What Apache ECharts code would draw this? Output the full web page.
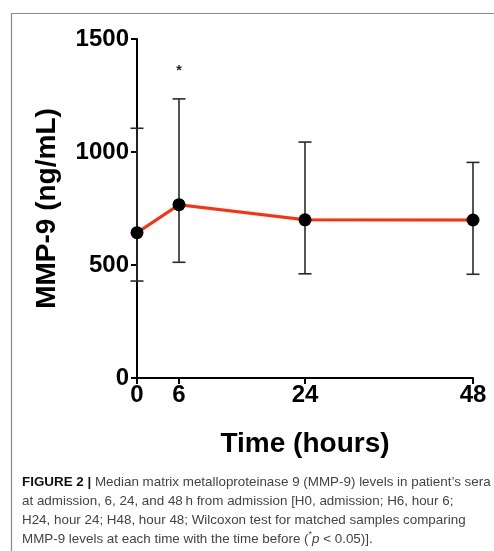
<!DOCTYPE html>
<html><head><meta charset="utf-8">
<script src="https://cdn.jsdelivr.net/npm/echarts@6/dist/echarts.min.js"></script>
<style>html,body{margin:0;padding:0;background:#fff}#c{width:494px;height:551px}</style>
</head><body><div id="c"></div>
<script>
var hours = [0, 6, 24, 48];
var medians = [643, 767, 700, 699];
var upper = [1105, 1235, 1044, 954];
var lower = [429, 512, 461, 459];
var sig = ['', '*', '', ''];
var xTicks = [0, 6, 24, 48];
var yTicks = [0, 500, 1000, 1500];

var chart = echarts.init(document.getElementById('c'), null, {renderer: 'canvas'});
var FF = '"Liberation Sans", Arial, Helvetica, sans-serif';
var errData = hours.map(function (h, i) { return [h, lower[i], upper[i], sig[i]]; });

chart.setOption({
  animation: false,
  backgroundColor: '#fff',
  grid: {left: 137, top: 39, right: 21, bottom: 173, containLabel: false},
  xAxis: {
    type: 'value', min: 0, max: 48,
    name: 'Time (hours)', nameLocation: 'middle', nameGap: 52,
    nameTextStyle: {fontFamily: FF, fontWeight: 'bold', fontSize: 28, color: '#000'},
    axisLine: {show: true, lineStyle: {color: '#000', width: 2}},
    axisTick: {show: true, length: 6, lineStyle: {color: '#000', width: 2}, customValues: xTicks},
    axisLabel: {fontFamily: FF, fontWeight: 'bold', fontSize: 24, color: '#000', margin: 5, customValues: xTicks,
      formatter: function (v) { return String(v); }},
    splitLine: {show: false}
  },
  yAxis: {
    type: 'value', min: 0, max: 1500, interval: 500,
    name: 'MMP-9 (ng/mL)', nameLocation: 'middle', nameGap: 76, nameRotate: 90,
    nameTextStyle: {fontFamily: FF, fontWeight: 'bold', fontSize: 28, color: '#000'},
    axisLine: {show: true, lineStyle: {color: '#000', width: 2}},
    axisTick: {show: true, length: 6, lineStyle: {color: '#000', width: 2}, customValues: yTicks},
    axisLabel: {fontFamily: FF, fontWeight: 'bold', fontSize: 24, color: '#000', margin: 8, customValues: yTicks,
      formatter: function (v) { return String(v); }},
    splitLine: {show: false}
  },
  graphic: [
    {type: 'rect', shape: {x: 11.5, y: 13.5, width: 600, height: 700}, style: {fill: null, stroke: '#8a8a8a', lineWidth: 1.2}, z: -10, silent: true},
    {type: 'text', left: 22, top: 473, style: {
      text: '{b|FIGURE 2 |} Median matrix metalloproteinase 9 (MMP-9) levels in patient\u2019s sera\nat admission, 6, 24, and 48\u2009h from admission [H0, admission; H6, hour 6;\nH24, hour 24; H48, hour 48; Wilcoxon test for matched samples comparing\nMMP-9 levels at each time with the time before ({s|*}{i|p} < 0.05)].',
      fontFamily: FF, fontSize: 13.4, lineHeight: 19, fill: '#444',
      rich: {
        b: {fontFamily: FF, fontSize: 13.4, fontWeight: 'bold', fill: '#111', lineHeight: 19},
        i: {fontFamily: FF, fontSize: 13.4, fontStyle: 'italic', fill: '#444', lineHeight: 19},
        s: {fontFamily: FF, fontSize: 9, fill: '#444', lineHeight: 19, verticalAlign: 'top'}
      }
    }}
  ],
  series: [
    {
      type: 'custom', z: 1, silent: true,
      data: errData,
      encode: {x: 0, y: [1, 2]},
      renderItem: function (params, api) {
        var x = api.value(0);
        var lo = api.coord([x, api.value(1)]);
        var hi = api.coord([x, api.value(2)]);
        var hw = 6.5;
        var st = {stroke: '#2a2a2a', lineWidth: 1.6};
        var children = [
          {type: 'line', shape: {x1: lo[0], y1: lo[1], x2: hi[0], y2: hi[1]}, style: st},
          {type: 'line', shape: {x1: hi[0] - hw, y1: hi[1], x2: hi[0] + hw, y2: hi[1]}, style: st},
          {type: 'line', shape: {x1: lo[0] - hw, y1: lo[1], x2: lo[0] + hw, y2: lo[1]}, style: st}
        ];
        var s = api.value(3);
        if (s && s !== '-') {
          children.push({type: 'text', style: {text: s, x: hi[0], y: hi[1] - 28, align: 'center', verticalAlign: 'middle', fontSize: 14, fontWeight: 'bold', fontFamily: FF, fill: '#222'}});
        }
        return {type: 'group', children: children};
      }
    },
    {
      type: 'line', z: 3,
      data: hours.map(function (h, i) { return [h, medians[i]]; }),
      symbol: 'circle', symbolSize: 13,
      lineStyle: {color: '#e8361f', width: 3, shadowColor: 'rgba(255,140,40,0.5)', shadowBlur: 1.5},
      itemStyle: {color: '#000', borderWidth: 0},
      emphasis: {disabled: true}
    }
  ]
});
</script></body></html>
